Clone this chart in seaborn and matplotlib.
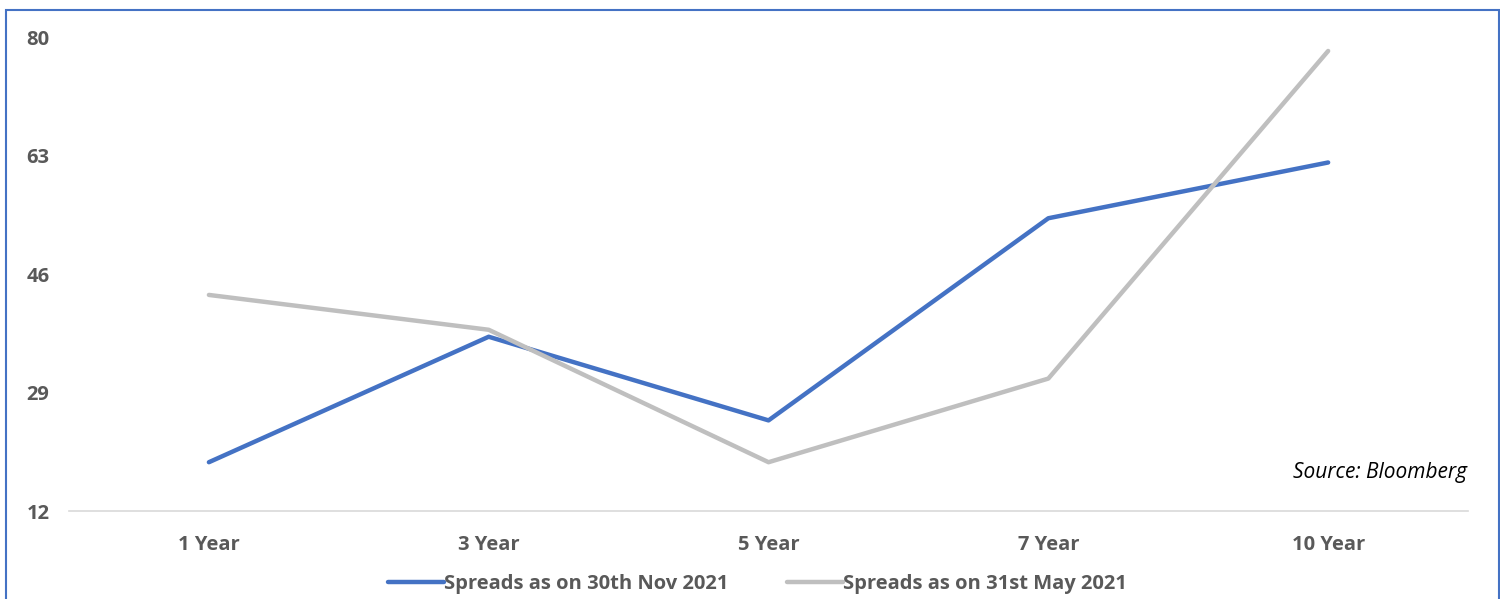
import matplotlib.pyplot as plt
import pandas as pd
import seaborn as sns
from matplotlib.patches import Rectangle

tenors = ["1 Year", "3 Year", "5 Year", "7 Year", "10 Year"]
nov_2021 = [19.0, 37.0, 25.0, 54.0, 62.0]
may_2021 = [43.0, 38.0, 19.0, 31.0, 78.0]
series_names = ["Spreads as on 30th Nov 2021", "Spreads as on 31st May 2021"]
y_ticks = [12, 29, 46, 63, 80]

df = pd.DataFrame({
    "tenor": tenors * 2,
    "spread": nov_2021 + may_2021,
    "series": [series_names[0]] * len(tenors) + [series_names[1]] * len(tenors),
})

sns.set_style("white")
plt.rcParams["font.family"] = ["Open Sans", "DejaVu Sans"]

fig = plt.figure(figsize=(15, 5.99), dpi=100)
ax = fig.add_axes([0.046, 0.1469, 0.9327, 0.7913])

sns.lineplot(
    data=df, x="tenor", y="spread", hue="series",
    palette=["#4472C4", "#BFBFBF"], linewidth=3.2, sort=False, ax=ax,
)

ax.set_xlim(-0.5, len(tenors) - 0.5)
ax.set_ylim(12, 80)
ax.set_yticks(y_ticks)
ax.set_xlabel("")
ax.set_ylabel("")
for side in ["top", "right", "left"]:
    ax.spines[side].set_visible(False)
ax.spines["bottom"].set_color("#D9D9D9")
ax.spines["bottom"].set_linewidth(1.2)
ax.tick_params(axis="both", length=0, labelsize=14.5, labelcolor="#595959")
ax.tick_params(axis="x", pad=17)
ax.tick_params(axis="y", pad=14)
for lbl in ax.get_xticklabels() + ax.get_yticklabels():
    lbl.set_fontweight("bold")

ax.text(0.9995, 0.06, "Source: Bloomberg", transform=ax.transAxes,
        ha="right", va="bottom", fontsize=15, style="italic", color="black")

leg = ax.legend(loc="center", bbox_to_anchor=(0.492, -0.155), ncol=2, frameon=False,
                handlelength=2.8, handletextpad=0.0, columnspacing=2.9,
                prop={"size": 14.5, "weight": "bold"})
for t in leg.get_texts():
    t.set_color("#595959")

fig.patches.append(Rectangle((0.004, -0.01), 0.995, 0.993, transform=fig.transFigure,
                             fill=False, edgecolor="#4472C4", linewidth=1.5))

fig.savefig("out.png", dpi=100)
